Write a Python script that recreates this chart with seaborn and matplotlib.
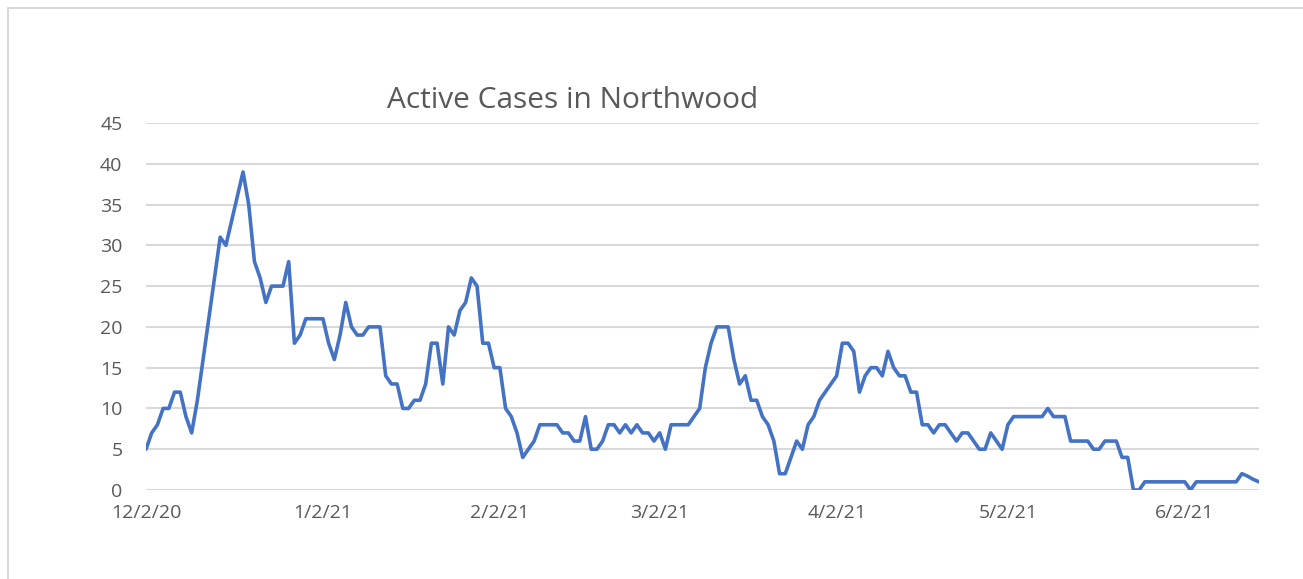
import matplotlib
matplotlib.use("Agg")
import matplotlib.pyplot as plt
from matplotlib.lines import Line2D
import seaborn as sns
import pandas as pd
import numpy as np

# ---- data ----
start_date = "2020-12-02"
active_cases = [
    5, 7, 8, 10, 10, 12, 12, 9, 7, 11,
    16, 21, 26, 31, 30, 33, 36, 39, 35, 28,
    26, 23, 25, 25, 25, 28, 18, 19, 21, 21,
    21, 21, 18, 16, 19, 23, 20, 19, 19, 20,
    20, 20, 14, 13, 13, 10, 10, 11, 11, 13,
    18, 18, 13, 20, 19, 22, 23, 26, 25, 18,
    18, 15, 15, 10, 9, 7, 4, 5, 6, 8,
    8, 8, 8, 7, 7, 6, 6, 9, 5, 5,
    6, 8, 8, 7, 8, 7, 8, 7, 7, 6,
    7, 5, 8, 8, 8, 8, 9, 10, 15, 18,
    20, 20, 20, 16, 13, 14, 11, 11, 9, 8,
    6, 2, 2, 4, 6, 5, 8, 9, 11, 12,
    13, 14, 18, 18, 17, 12, 14, 15, 15, 14,
    17, 15, 14, 14, 12, 12, 8, 8, 7, 8,
    8, 7, 6, 7, 7, 6, 5, 5, 7, 6,
    5, 8, 9, 9, 9, 9, 9, 9, 10, 9,
    9, 9, 6, 6, 6, 6, 5, 5, 6, 6,
    6, 4, 4, 0, 0, 1, 1, 1, 1, 1,
    1, 1, 1, 0, 1, 1, 1, 1, 1, 1,
    1, 1, 2, 1.7, 1.3, 1,
]
tick_dates = ["2020-12-02", "2021-01-02", "2021-02-02", "2021-03-02",
              "2021-04-02", "2021-05-02", "2021-06-02"]
tick_labels = ["12/2/20", "1/2/21", "2/2/21", "3/2/21", "4/2/21", "5/2/21", "6/2/21"]
y_ticks = [0, 5, 10, 15, 20, 25, 30, 35, 40, 45]
title = "Active Cases in Northwood"

df = pd.DataFrame({
    "date": pd.date_range(start_date, periods=len(active_cases), freq="D"),
    "cases": active_cases,
})

sns.set_theme(style="white")
plt.rcParams["font.family"] = ["Open Sans", "DejaVu Sans"]

W, H = 1303, 579
fig = plt.figure(figsize=(W / 100, H / 100), dpi=100)
ax = fig.add_axes([146 / W, 1 - 490 / H, (1259 - 146) / W, (490 - 123) / H])

sns.lineplot(data=df, x="date", y="cases", ax=ax, color="#4472C4", linewidth=2.6)

ax.set_xlim(df["date"].iloc[0], df["date"].iloc[-1])
ax.set_ylim(0, 45)
ax.set_yticks(y_ticks)
ax.set_yticklabels([str(v) for v in y_ticks])
ax.set_xticks(pd.to_datetime(tick_dates))
ax.set_xticklabels(tick_labels)
ax.set_xlabel("")
ax.set_ylabel("")

ax.grid(axis="y", color="#d9d9d9", linewidth=1.5)
ax.grid(axis="x", visible=False)
ax.set_axisbelow(True)
for s in ax.spines.values():
    s.set_visible(False)
ax.tick_params(axis="both", length=0, labelsize=14, colors="#595959")
ax.tick_params(axis="y", pad=17)
ax.tick_params(axis="x", pad=10)

fig.text(573 / W, 1 - 100 / H, title, ha="center", va="center",
         fontsize=21.5, color="#595959")

# outer chart border (visible top and left edges)
fig.add_artist(Line2D([8 / W, 1], [1 - 8 / H, 1 - 8 / H], transform=fig.transFigure,
                      color="#d9d9d9", linewidth=1.5))
fig.add_artist(Line2D([8 / W, 8 / W], [0, 1 - 8 / H], transform=fig.transFigure,
                      color="#d9d9d9", linewidth=1.5))

fig.savefig("out.png", dpi=100, facecolor="white")
